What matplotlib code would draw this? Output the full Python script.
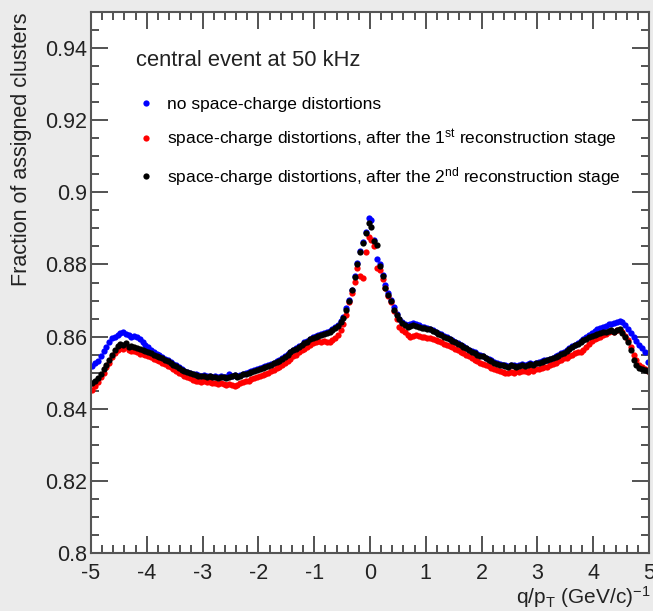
import numpy as np
import matplotlib
matplotlib.use("Agg")
import matplotlib.pyplot as plt
from matplotlib.ticker import MultipleLocator

plt.rcParams['font.family'] = ['Liberation Sans', 'DejaVu Sans']
plt.rcParams['mathtext.default'] = 'regular'
plt.rcParams['axes.unicode_minus'] = False

# bin centres of q/pT, 0.05 wide bins from -5 to 5
q_pt = np.arange(-4.975, 5.0, 0.05)

# no space-charge distortions
no_sc = [
    0.8518, 0.8528, 0.8533, 0.8545, 0.8560, 0.8572, 0.8585, 0.8595, 0.8600, 0.8605,
    0.8610, 0.8612, 0.8608, 0.8604, 0.8600, 0.8603, 0.8598, 0.8592, 0.8585, 0.8578,
    0.8570, 0.8564, 0.8558, 0.8552, 0.8548, 0.8543, 0.8538, 0.8534, 0.8530, 0.8525,
    0.8520, 0.8515, 0.8510, 0.8506, 0.8503, 0.8500, 0.8497, 0.8495, 0.8493, 0.8492,
    0.8493, 0.8490, 0.8492, 0.8489, 0.8491, 0.8488, 0.8490, 0.8489, 0.8487, 0.8496,
    0.8492, 0.8494, 0.8490, 0.8494, 0.8497, 0.8499, 0.8501, 0.8505, 0.8507, 0.8510,
    0.8512, 0.8515, 0.8518, 0.8521, 0.8525, 0.8528, 0.8532, 0.8536, 0.8540, 0.8546,
    0.8553, 0.8558, 0.8564, 0.8568, 0.8573, 0.8578, 0.8584, 0.8588, 0.8594, 0.8599,
    0.8602, 0.8605, 0.8607, 0.8610, 0.8612, 0.8615, 0.8620, 0.8626, 0.8633, 0.8642,
    0.8655, 0.8678, 0.8702, 0.8730, 0.8768, 0.8803, 0.8838, 0.8862, 0.8890, 0.8928,
    0.8922, 0.8868, 0.8815, 0.8800, 0.8770, 0.8742, 0.8720, 0.8702, 0.8682, 0.8662,
    0.8650, 0.8640, 0.8635, 0.8632, 0.8634, 0.8637, 0.8634, 0.8631, 0.8628, 0.8626,
    0.8624, 0.8622, 0.8617, 0.8614, 0.8610, 0.8606, 0.8602, 0.8598, 0.8594, 0.8590,
    0.8586, 0.8582, 0.8578, 0.8573, 0.8569, 0.8564, 0.8560, 0.8556, 0.8552, 0.8549,
    0.8546, 0.8542, 0.8538, 0.8534, 0.8530, 0.8527, 0.8524, 0.8522, 0.8520, 0.8519,
    0.8521, 0.8520, 0.8518, 0.8521, 0.8523, 0.8520, 0.8524, 0.8526, 0.8524, 0.8528,
    0.8530, 0.8532, 0.8534, 0.8536, 0.8539, 0.8542, 0.8546, 0.8550, 0.8555, 0.8558,
    0.8563, 0.8568, 0.8573, 0.8578, 0.8583, 0.8588, 0.8594, 0.8600, 0.8605, 0.8610,
    0.8615, 0.8620, 0.8624, 0.8628, 0.8630, 0.8634, 0.8636, 0.8638, 0.8641, 0.8643,
    0.8640, 0.8632, 0.8622, 0.8610, 0.8600, 0.8588, 0.8578, 0.8568, 0.8558, 0.8530,
]

# space-charge distortions, 1st reconstruction stage
stage1 = [
    0.8452, 0.8462, 0.8475, 0.8488, 0.8500, 0.8515, 0.8528, 0.8543, 0.8555, 0.8563,
    0.8568, 0.8565, 0.8570, 0.8563, 0.8560, 0.8561, 0.8556, 0.8553, 0.8551, 0.8548,
    0.8546, 0.8543, 0.8538, 0.8535, 0.8532, 0.8527, 0.8523, 0.8519, 0.8515, 0.8510,
    0.8506, 0.8500, 0.8495, 0.8492, 0.8488, 0.8484, 0.8481, 0.8478, 0.8476, 0.8475,
    0.8476, 0.8473, 0.8474, 0.8471, 0.8472, 0.8469, 0.8471, 0.8468, 0.8466, 0.8468,
    0.8465, 0.8462, 0.8467, 0.8470, 0.8473, 0.8476, 0.8478, 0.8482, 0.8485, 0.8488,
    0.8490, 0.8493, 0.8497, 0.8500, 0.8504, 0.8508, 0.8512, 0.8516, 0.8520, 0.8526,
    0.8532, 0.8538, 0.8545, 0.8550, 0.8556, 0.8562, 0.8567, 0.8572, 0.8578, 0.8582,
    0.8585, 0.8587, 0.8586, 0.8588, 0.8584, 0.8586, 0.8590, 0.8596, 0.8605, 0.8618,
    0.8635, 0.8660, 0.8695, 0.8722, 0.8752, 0.8790, 0.8768, 0.8762, 0.8835, 0.8875,
    0.8868, 0.8850, 0.8790, 0.8785, 0.8760, 0.8735, 0.8712, 0.8695, 0.8672, 0.8650,
    0.8628, 0.8618, 0.8612, 0.8605, 0.8598, 0.8602, 0.8605, 0.8603, 0.8600, 0.8598,
    0.8595, 0.8596, 0.8592, 0.8590, 0.8588, 0.8585, 0.8580, 0.8576, 0.8573, 0.8570,
    0.8566, 0.8562, 0.8558, 0.8554, 0.8550, 0.8545, 0.8540, 0.8536, 0.8532, 0.8528,
    0.8525, 0.8521, 0.8518, 0.8514, 0.8510, 0.8507, 0.8504, 0.8502, 0.8500, 0.8498,
    0.8503, 0.8500, 0.8505, 0.8502, 0.8504, 0.8506, 0.8503, 0.8507, 0.8506, 0.8509,
    0.8511, 0.8512, 0.8515, 0.8517, 0.8520, 0.8523, 0.8527, 0.8531, 0.8535, 0.8540,
    0.8542, 0.8546, 0.8550, 0.8554, 0.8556, 0.8557, 0.8562, 0.8570, 0.8580, 0.8588,
    0.8592, 0.8596, 0.8600, 0.8604, 0.8608, 0.8612, 0.8615, 0.8613, 0.8617, 0.8618,
    0.8612, 0.8602, 0.8590, 0.8572, 0.8550, 0.8535, 0.8522, 0.8515, 0.8510, 0.8505,
]

# space-charge distortions, 2nd reconstruction stage
stage2 = [
    0.8472, 0.8478, 0.8484, 0.8497, 0.8510, 0.8522, 0.8535, 0.8550, 0.8563, 0.8575,
    0.8580, 0.8576, 0.8581, 0.8572, 0.8575, 0.8570, 0.8568, 0.8566, 0.8563, 0.8560,
    0.8558, 0.8555, 0.8550, 0.8547, 0.8544, 0.8540, 0.8535, 0.8532, 0.8527, 0.8522,
    0.8518, 0.8514, 0.8508, 0.8505, 0.8502, 0.8498, 0.8496, 0.8493, 0.8491, 0.8490,
    0.8492, 0.8488, 0.8490, 0.8487, 0.8489, 0.8486, 0.8488, 0.8487, 0.8485, 0.8489,
    0.8490, 0.8493, 0.8488, 0.8492, 0.8495, 0.8497, 0.8499, 0.8503, 0.8505, 0.8508,
    0.8510, 0.8513, 0.8516, 0.8519, 0.8522, 0.8526, 0.8530, 0.8533, 0.8537, 0.8543,
    0.8550, 0.8556, 0.8562, 0.8566, 0.8570, 0.8576, 0.8581, 0.8586, 0.8592, 0.8597,
    0.8600, 0.8603, 0.8605, 0.8608, 0.8610, 0.8612, 0.8618, 0.8624, 0.8630, 0.8640,
    0.8652, 0.8675, 0.8700, 0.8728, 0.8765, 0.8800, 0.8835, 0.8860, 0.8888, 0.8915,
    0.8905, 0.8865, 0.8855, 0.8795, 0.8768, 0.8735, 0.8715, 0.8700, 0.8675, 0.8660,
    0.8648, 0.8638, 0.8632, 0.8628, 0.8630, 0.8633, 0.8630, 0.8628, 0.8625, 0.8624,
    0.8622, 0.8620, 0.8615, 0.8612, 0.8608, 0.8604, 0.8600, 0.8596, 0.8592, 0.8588,
    0.8585, 0.8580, 0.8576, 0.8572, 0.8568, 0.8562, 0.8558, 0.8555, 0.8550, 0.8547,
    0.8545, 0.8540, 0.8536, 0.8532, 0.8528, 0.8525, 0.8522, 0.8520, 0.8518, 0.8517,
    0.8520, 0.8518, 0.8516, 0.8519, 0.8521, 0.8518, 0.8522, 0.8524, 0.8522, 0.8526,
    0.8528, 0.8530, 0.8532, 0.8534, 0.8537, 0.8540, 0.8543, 0.8547, 0.8552, 0.8555,
    0.8560, 0.8566, 0.8570, 0.8576, 0.8580, 0.8585, 0.8590, 0.8594, 0.8598, 0.8602,
    0.8605, 0.8608, 0.8610, 0.8613, 0.8612, 0.8615, 0.8617, 0.8614, 0.8618, 0.8620,
    0.8610, 0.8598, 0.8585, 0.8562, 0.8535, 0.8522, 0.8514, 0.8510, 0.8508, 0.8505,
]

labels = [
    "no space-charge distortions",
    "space-charge distortions, after the 1$^{st}$ reconstruction stage",
    "space-charge distortions, after the 2$^{nd}$ reconstruction stage",
]
colors = ["#0000ff", "#ff0000", "#000000"]

y_ticks = [0.8, 0.82, 0.84, 0.86, 0.88, 0.9, 0.92, 0.94]
y_ticklabels = ["0.8", "0.82", "0.84", "0.86", "0.88", "0.9", "0.92", "0.94"]
x_ticks = [-5, -4, -3, -2, -1, 0, 1, 2, 3, 4, 5]

fig = plt.figure(figsize=(6.53, 6.11), dpi=100, facecolor="#ebebeb")
ax = fig.add_axes([91/653, 58/611, 558/653, 541/611])
ax.set_facecolor("white")

for vals, c, lab in zip([no_sc, stage1, stage2], colors, labels):
    ax.plot(q_pt, vals, "o", color=c, ms=4.5, mew=0, label=lab)

ax.set_xlim(-5, 5)
ax.set_ylim(0.8, 0.95)
ax.set_xticks(x_ticks)
ax.set_xticklabels([str(t) for t in x_ticks])
ax.set_yticks(y_ticks)
ax.set_yticklabels(y_ticklabels)
ax.xaxis.set_minor_locator(MultipleLocator(0.2))
ax.yaxis.set_minor_locator(MultipleLocator(0.005))
ax.tick_params(which="both", direction="in", top=True, right=True,
               color="#444444", width=1.3, labelsize=15.5, labelcolor="#222222")
ax.tick_params(which="major", length=12.5)
ax.tick_params(which="minor", length=6)
ax.tick_params(axis="y", pad=3)
ax.tick_params(axis="x", pad=7)
for s in ax.spines.values():
    s.set_color("#555555")
    s.set_linewidth(1.5)

fig.text(22/653, 1 - 13/611, "Fraction of assigned clusters", rotation=90,
         ha="center", va="top", fontsize=15.5, color="#222222")
fig.text(650/653, 1 - 597/611, "q/p$_{T}$ (GeV/c)$^{-1}$",
         ha="right", va="center", fontsize=15, color="#222222")
fig.text(136/653, 1 - 61/611, "central event at 50 kHz",
         ha="left", va="center", fontsize=15.8, color="#222222")

ax.legend(loc="upper left", bbox_to_anchor=(0.07, 0.856), frameon=False,
          fontsize=12.5, handletextpad=0.7, labelspacing=0.87,
          handlelength=1.0, markerscale=1.0, borderaxespad=0)

fig.savefig("out.png", dpi=100, facecolor=fig.get_facecolor())
